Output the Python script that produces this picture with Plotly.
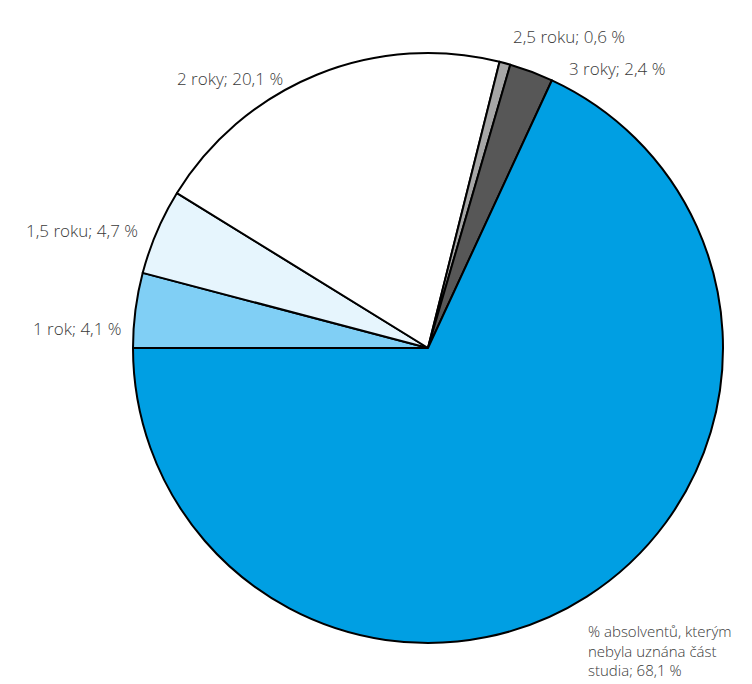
import plotly.graph_objects as go

W, H = 752, 684

# data
labels = ["1 rok", "1,5 roku", "2 roky", "2,5 roku", "3 roky",
          "% absolventů, kterým<br>nebyla uznána část<br>studia"]
values = [4.1, 4.7, 20.1, 0.6, 2.4, 68.1]
colors = ["#80CFF5", "#E6F5FD", "#FFFFFF", "#A6A6A6", "#575757", "#009FE3"]

# label anchor points in pixels (left/right edge, vertical middle, font size)
label_pos = [
    (116, 320, "right", 17),
    (132, 222, "right", 17),
    (277, 70, "right", 17),
    (503, 28, "left", 17),
    (559, 60, "left", 17),
    (578, 642, "left", 15),
]


def fmt(v):
    return f"{v:.1f}".replace(".", ",")


fig = go.Figure(
    go.Pie(
        labels=labels,
        values=values,
        sort=False,
        direction="clockwise",
        rotation=270,
        marker=dict(colors=colors, line=dict(color="black", width=2)),
        textinfo="none",
        hoverinfo="label+percent",
        showlegend=False,
        domain=dict(x=[125 / W, 715 / W], y=[1 - 635 / H, 1 - 45 / H]),
    )
)

for lab, val, (px, py, anchor, fs) in zip(labels, values, label_pos):
    fig.add_annotation(
        text=f"{lab}; {fmt(val)} %",
        x=px / W,
        y=1 - py / H,
        xref="paper",
        yref="paper",
        xanchor=anchor,
        yanchor="middle",
        align="left",
        showarrow=False,
        font=dict(family="Open Sans", size=fs, color="#3a3a3a", weight=300),
    )

fig.update_layout(
    width=W,
    height=H,
    margin=dict(l=0, r=0, t=0, b=0),
    paper_bgcolor="white",
    plot_bgcolor="white",
)

fig.write_html("out.html")
